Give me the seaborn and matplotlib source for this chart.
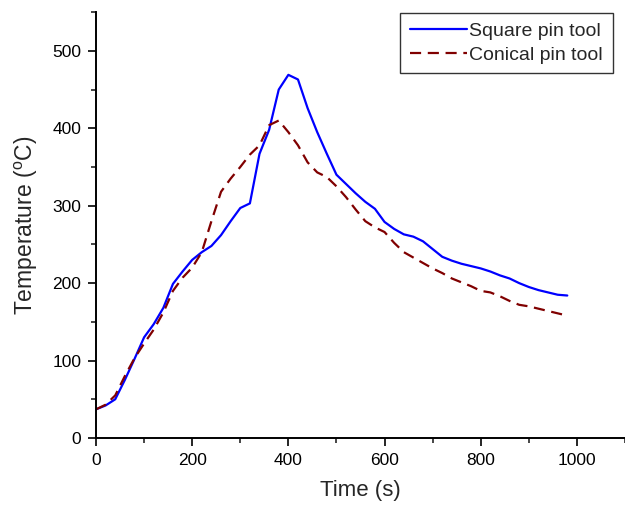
import numpy as np
import pandas as pd
import matplotlib
matplotlib.use("Agg")
import matplotlib.pyplot as plt
import seaborn as sns
from matplotlib.ticker import MultipleLocator

time_s = list(range(0, 1000, 20))
square_pin = [37, 42, 50, 75, 102, 130, 147, 168, 199, 215,
              230, 240, 248, 262, 280, 297, 303, 367, 398, 450,
              469, 463, 426, 395, 367, 340, 328, 316, 305, 296,
              279, 270, 263, 260, 254, 244, 234, 229, 225, 222,
              219, 215, 210, 206, 200, 195, 191, 188, 185, 184]
conical_pin = [37, 43, 55, 80, 103, 122, 140, 162, 190, 207,
               220, 240, 280, 318, 335, 350, 366, 378, 404, 410,
               395, 378, 356, 343, 337, 325, 311, 295, 280, 272,
               266, 252, 240, 233, 226, 219, 213, 206, 201, 196,
               190, 188, 183, 177, 172, 170, 167, 164, 161, 158]
series_names = ["Square pin tool", "Conical pin tool"]

df = pd.DataFrame({
    "Time": time_s * 2,
    "Temp": square_pin + conical_pin,
    "Tool": [series_names[0]] * len(time_s) + [series_names[1]] * len(time_s),
})

sns.set_style("ticks")
plt.rcParams["font.family"] = ["Liberation Sans", "DejaVu Sans"]
plt.rcParams["mathtext.fontset"] = "custom"
plt.rcParams["mathtext.rm"] = "Liberation Sans"

fig = plt.figure(figsize=(6.25, 5.05), dpi=100)
ax = fig.add_axes([0.1536, 0.1327, 0.8464, 0.8433])

sns.lineplot(data=df, x="Time", y="Temp", hue="Tool", style="Tool",
             palette={series_names[0]: "#0000FF", series_names[1]: "#800000"},
             dashes={series_names[0]: "", series_names[1]: (5, 3)},
             linewidth=1.6, ax=ax)

ax.set_xlim(0, 1100)
ax.set_ylim(0, 550)
ax.xaxis.set_major_locator(MultipleLocator(200))
ax.xaxis.set_minor_locator(MultipleLocator(100))
ax.yaxis.set_major_locator(MultipleLocator(100))
ax.yaxis.set_minor_locator(MultipleLocator(50))
ax.tick_params(which="major", direction="out", length=5.5, width=1.2, labelsize=12.5,
               colors="black", pad=5)
ax.tick_params(which="minor", direction="out", length=3.5, width=1.2)
for s in ["top", "right"]:
    ax.spines[s].set_visible(False)
for s in ["left", "bottom"]:
    ax.spines[s].set_linewidth(1.4)
    ax.spines[s].set_color("black")

ax.set_xlabel("Time (s)", fontsize=16, labelpad=9)
ax.set_ylabel(r"Temperature ($^{\mathrm{o}}$C)", fontsize=16.5, labelpad=9)

leg = ax.legend(title=None, loc="upper right", fontsize=14, frameon=True,
                fancybox=False, edgecolor="black", handlelength=2.9,
                handletextpad=0.15, borderpad=0.5, labelspacing=0.3,
                borderaxespad=0.0, bbox_to_anchor=(0.977, 0.998))
leg.get_frame().set_linewidth(1.0)

fig.savefig("out.png", dpi=100)
